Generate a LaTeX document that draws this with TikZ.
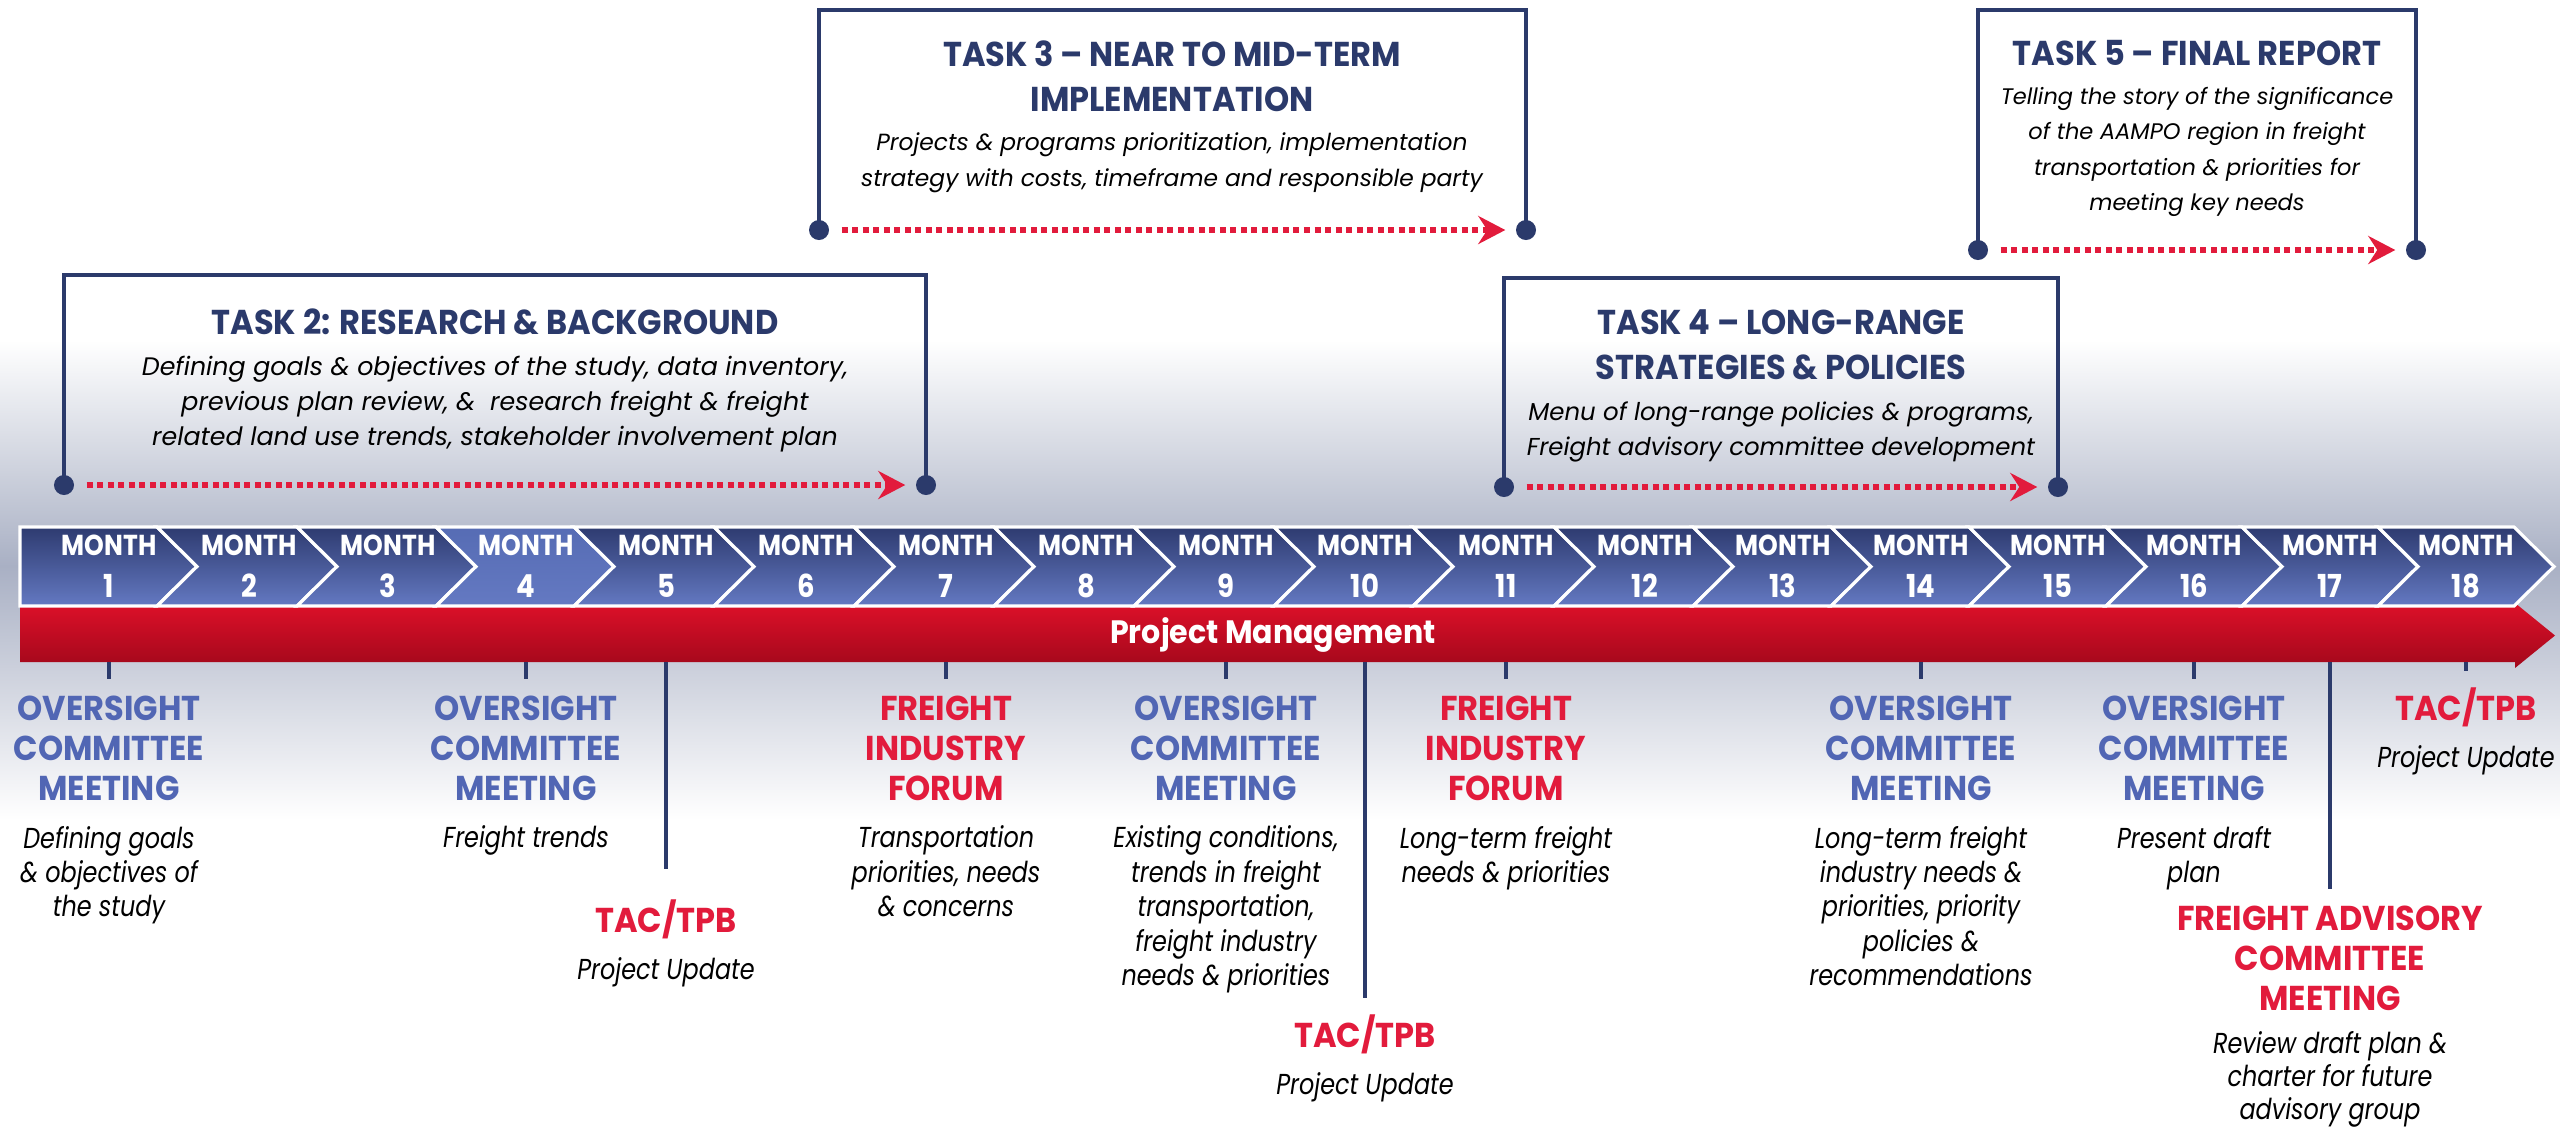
\documentclass[tikz,border=0pt]{standalone}
\usepackage{fontspec}
\setmainfont{Poppins}
\newfontfamily\headfont{Poppins}[FakeStretch=0.93]
\newfontfamily\monthfont{Poppins}[FakeStretch=0.87]
\newfontfamily\notefont{Poppins}[FakeStretch=0.83]
\usepackage{xcolor}
\usetikzlibrary{arrows.meta,positioning}

\definecolor{navy}{HTML}{2B3A6B}
\definecolor{chevtop}{HTML}{2E3B70}
\definecolor{chevbot}{HTML}{6479C2}
\definecolor{chevhi}{HTML}{566CB4}
\definecolor{ovblue}{HTML}{5166B4}
\definecolor{evred}{HTML}{E21B3C}
\definecolor{barhi}{HTML}{DD1029}
\definecolor{barlo}{HTML}{A2081B}
\definecolor{haze}{HTML}{A9B0C4}

\begin{document}
\begin{tikzpicture}[x=0.01cm, y=0.01cm,
  chev/.style={draw=white, line width=0.9pt, top color=chevtop, bottom color=chevbot},
  monthlbl/.style={text=white, inner sep=0pt, font=\monthfont\bfseries\fontsize{8.2}{9}\selectfont},
  monthnum/.style={text=white, inner sep=0pt, font=\monthfont\bfseries\fontsize{9}{10}\selectfont},
  taskhead/.style={text=navy, align=center, inner sep=0pt, anchor=north,
    font=\headfont\bfseries\fontsize{9.8}{12.8}\selectfont},
  taskbody/.style={align=center, inner sep=0pt, font=\itshape\fontsize{#1}{10}\selectfont},
  taskbody/.default=7,
  taskframe/.style={draw=navy, line width=1.4pt},
  dot/.style={circle, fill=navy, inner sep=0pt, minimum size=2mm},
  flow/.style={draw=evred, line width=1.7pt, dash pattern=on 0.6mm off 0.45mm,
    -{Stealth[length=2.7mm, width=2.8mm, inset=0.9mm]}, shorten <=1.2mm, shorten >=1mm},
  evhead/.style={align=center, inner sep=0pt, anchor=north,
    font=\headfont\bfseries\fontsize{9.8}{11.4}\selectfont},
  ovhead/.style={evhead, text=ovblue},
  fihead/.style={evhead, text=evred},
  evnote/.style={align=center, inner sep=0pt, font=\notefont\itshape\fontsize{8.2}{9.8}\selectfont},
  tickline/.style={draw=navy, line width=1.3pt, shorten >=1.6mm}
]
  % backdrop
  \fill[white] (0,0) rectangle (2560,-1129);
  \shade[top color=white, bottom color=haze] (0,-340) rectangle (2560,-566);
  \shade[top color=haze, bottom color=white] (0,-566) rectangle (2560,-820);
  \useasboundingbox (0,0) rectangle (2560,-1129);

  % project management bar
  \shade[top color=barhi, bottom color=barlo] (20,-607) -- (2515,-607) -- (2515,-603)
    -- (2555,-635.5) -- (2515,-668) -- (2515,-662) -- (20,-662) -- cycle;
  \node[text=white, font=\headfont\bfseries\fontsize{9.2}{10}\selectfont] (pm) at (1273,-635) {Project Management};
  \coordinate (barline) at (0,-662);

  % month chevrons
  \foreach \c [count=\k, remember=\c as \p (initially 0)] in
      {109,249,388,526,666,806,946,1086,1226,1365,1506,1645,1783,1921,2058,2194,2330,2466} {
    \ifnum\k=4 \def\ctop{chevhi}\else\def\ctop{chevtop}\fi
    \ifnum\k=1
      \path[chev] (20,-527) -- (\c+48,-527) -- (\c+88,-566.5) -- (\c+48,-606) -- (20,-606) -- cycle;
    \else
      \path[chev, top color=\ctop] (\p+48,-527) -- (\c+48,-527) -- (\c+88,-566.5)
        -- (\c+48,-606) -- (\p+48,-606) -- (\p+88,-566.5) -- cycle;
    \fi
    \node[monthlbl] (mon\k) at (\c,-545) {MONTH};
    \node[monthnum] (num\k) at (\c,-586) {\k};
  }

  % tasks
  \node[dot] (t2l) at (64,-485) {};
  \node[dot] (t2r) at (926,-485) {};
  \draw[taskframe] (t2l.center) -- ++(0,210) -| (t2r.center);
  \draw[flow] (t2l) -- (t2r);
  \node[taskhead] (t2h) at (495,-308) {TASK 2: RESEARCH \& BACKGROUND};
  \node[taskbody=7.2, below=2mm of t2h] (t2b) {Defining goals \& objectives of the study, data inventory,\\
    previous plan review, \& \ research freight \& freight\\related land use trends, stakeholder involvement plan};

  \node[dot] (t3l) at (819,-230) {};
  \node[dot] (t3r) at (1526,-230) {};
  \draw[taskframe] (t3l.center) -- ++(0,220) -| (t3r.center);
  \draw[flow] (t3l) -- (t3r);
  \node[taskhead] (t3h) at (1172,-40) {TASK 3 – NEAR TO MID-TERM\\IMPLEMENTATION};
  \node[taskbody=6.65, below=2mm of t3h] (t3b) {Projects \& programs prioritization, implementation\\
    strategy with costs, timeframe and responsible party};

  \node[dot] (t4l) at (1504,-487) {};
  \node[dot] (t4r) at (2058,-487) {};
  \draw[taskframe] (t4l.center) -- ++(0,209) -| (t4r.center);
  \draw[flow] (t4l) -- (t4r);
  \node[taskhead] (t4h) at (1781,-309) {TASK 4 – LONG-RANGE\\STRATEGIES \& POLICIES};
  \node[taskbody=6.95, below=2mm of t4h] (t4b) {Menu of long-range policies \& programs,\\
    Freight advisory committee development};

  \node[dot] (t5l) at (1978,-250) {};
  \node[dot] (t5r) at (2416,-250) {};
  \draw[taskframe] (t5l.center) -- ++(0,240) -| (t5r.center);
  \draw[flow] (t5l) -- (t5r);
  \node[taskhead] (t5h) at (2197,-40) {TASK 5 – FINAL REPORT};
  \node[taskbody=6.4, below=2mm of t5h] (t5b) {Telling the story of the significance\\
    of the AAMPO region in freight\\transportation \& priorities for\\meeting key needs};

  % meetings along the timeline
  \node[ovhead] (e1) at (109,-695) {OVERSIGHT\\COMMITTEE\\MEETING};
  \node[evnote, below=2.4mm of e1] (e1n) {Defining goals\\\& objectives of\\the study};
  \node[ovhead] (e4) at (526,-695) {OVERSIGHT\\COMMITTEE\\MEETING};
  \node[evnote, below=2.4mm of e4] (e4n) {Freight trends};
  \node[fihead] (e5) at (666,-899) {TAC/TPB};
  \node[evnote, below=1.75mm of e5] (e5n) {Project Update};
  \node[fihead] (e7) at (946,-695) {FREIGHT\\INDUSTRY\\FORUM};
  \node[evnote, below=2.4mm of e7] (e7n) {Transportation\\priorities, needs\\\& concerns};
  \node[ovhead] (e9) at (1226,-695) {OVERSIGHT\\COMMITTEE\\MEETING};
  \node[evnote, below=2.4mm of e9] (e9n) {Existing conditions,\\trends in freight\\transportation,\\
    freight industry\\needs \& priorities};
  \node[fihead] (e10) at (1365,-1014) {TAC/TPB};
  \node[evnote, below=1.75mm of e10] (e10n) {Project Update};
  \node[fihead] (e11) at (1506,-695) {FREIGHT\\INDUSTRY\\FORUM};
  \node[evnote, below=2.4mm of e11] (e11n) {Long-term freight\\needs \& priorities};
  \node[ovhead] (e14) at (1921,-695) {OVERSIGHT\\COMMITTEE\\MEETING};
  \node[evnote, below=2.4mm of e14] (e14n) {Long-term freight\\industry needs \&\\priorities, priority\\
    policies \&\\recommendations};
  \node[ovhead] (e16) at (2194,-695) {OVERSIGHT\\COMMITTEE\\MEETING};
  \node[evnote, below=2.4mm of e16] (e16n) {Present draft\\plan};
  \node[fihead] (e17) at (2330,-905) {FREIGHT ADVISORY\\COMMITTEE\\MEETING};
  \node[evnote, below=1.9mm of e17, font=\notefont\itshape\fontsize{8.2}{9.5}\selectfont] (e17n)
    {Review draft plan \&\\charter for future\\advisory group};
  \node[fihead] (e18) at (2466,-687) {TAC/TPB};
  \node[evnote, below=1.75mm of e18] (e18n) {Project Update};

  \foreach \e in {e1,e4,e7,e9,e10,e11,e14,e16,e17,e18}
    \draw[tickline] (\e |- barline) -- (\e.north);
  \draw[tickline, shorten >=3mm] (e5 |- barline) -- (e5.north);
\end{tikzpicture}
\end{document}
